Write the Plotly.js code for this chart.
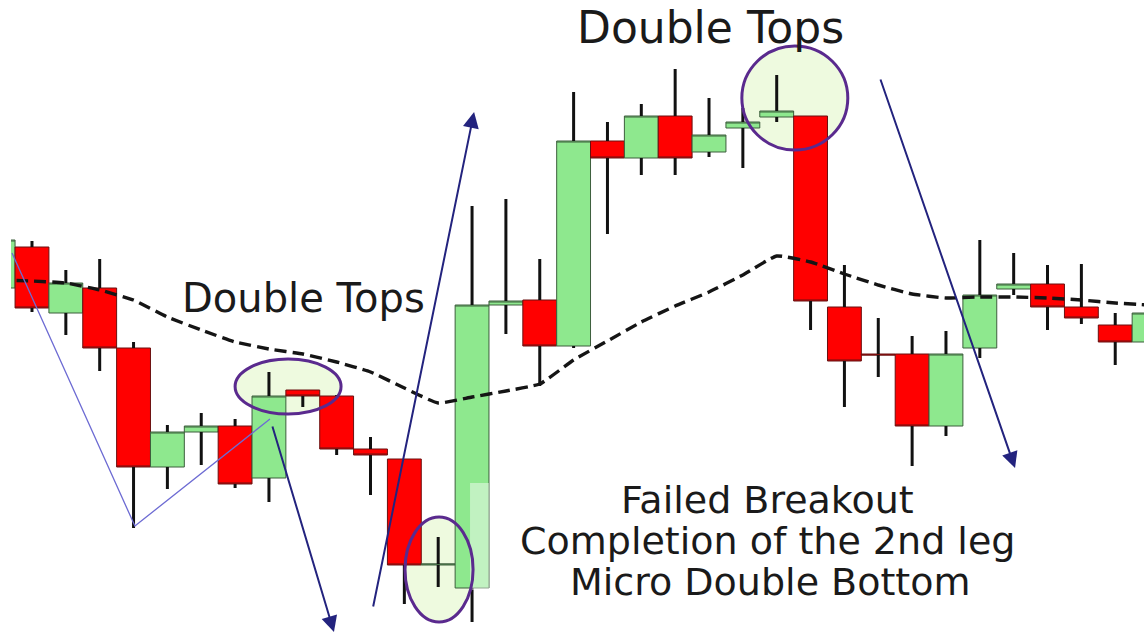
<!DOCTYPE html>
<html>
<head>
<meta charset="utf-8">
<script src="https://cdn.plot.ly/plotly-3.0.1.min.js"></script>
<style>html,body{margin:0;padding:0;background:#fff;}#chart{width:1144px;height:634px;}</style>
</head>
<body>
<div id="chart"></div>
<script>
// Bar index (session number)
const bars = [0,1,2,3,4,5,6,7,8,9,10,11,12,13,14,15,16,17,18,19,20,21,22,23,24,25,26,27,28,29,30,31,32,33,34];
const opens  = [33.2,37.3,30.7,33.2,27.2,15.3,18.8,19.4,14.2,23.0,22.4,17.1,16.1,5.5,3.2,31.5,32.0,27.4,47.9,46.2,50.4,46.8,49.2,50.3,50.4,31.3,26.6,26.6,19.4,27.2,33.1,33.6,31.3,29.5,27.8];
const highs  = [38.2,37.9,35.0,36.1,27.8,19.5,20.7,20.1,24.8,23.0,22.5,18.3,16.1,8.3,41.4,42.1,36.1,52.8,49.8,51.6,55.1,52.2,51.2,54.5,50.4,35.5,30.2,28.4,28.9,38.0,36.7,35.5,35.6,30.7,31.0];
const lows   = [32.8,30.8,28.5,24.9,9.2,13.1,15.5,13.2,11.8,21.3,16.5,12.5,1.6,3.3,-0.2,28.6,23.4,27.2,38.6,44.5,44.5,46.3,45.2,49.8,29.0,21.3,24.3,15.4,18.4,26.2,32.5,29.0,29.6,25.5,25.5];
const closes = [38.0,31.2,33.7,27.2,15.3,18.8,19.4,13.6,22.4,22.4,17.1,16.5,5.5,5.6,31.5,31.9,27.4,47.9,46.2,50.4,46.2,48.5,49.8,50.9,31.9,25.9,26.5,19.4,26.6,32.5,33.6,31.3,30.2,27.8,30.7];
// Moving average (dashed)
const movingAvg = [34.0,33.9,33.7,33.0,32.0,30.3,29.0,27.8,27.1,26.6,25.8,24.8,23.2,21.7,22.3,22.9,23.6,26.0,27.9,29.8,31.4,32.8,34.5,36.4,35.8,34.6,33.5,32.6,32.2,32.3,32.3,32.2,32.0,31.7,31.5];

// Annotation texts
const labelTopTitle = "Double Tops";
const labelMidTitle = "Double Tops";
const labelBottom = ["Failed Breakout", "Completion of the 2nd leg", "Micro Double Bottom"];

// wick segments (drawn outside the bodies)
const wx = [], wy = [];
for (let i = 0; i < bars.length; i++) {
  const top = Math.max(opens[i], closes[i]);
  const bot = Math.min(opens[i], closes[i]);
  wx.push(bars[i], bars[i], null, bars[i], bars[i], null);
  wy.push(highs[i], top, null, bot, lows[i], null);
}

const candles = {
  type: 'candlestick',
  x: bars, open: opens, high: highs, low: lows, close: closes,
  increasing: {fillcolor: '#8ee88e', line: {color: '#3c5e3c', width: 1}},
  decreasing: {fillcolor: '#ff0000', line: {color: '#6a1010', width: 1}},
  whiskerwidth: 0,
  hoverinfo: 'skip',
  showlegend: false
};
const wicks = {
  type: 'scatter', mode: 'lines', x: wx, y: wy,
  line: {color: '#111111', width: 3},
  hoverinfo: 'skip', showlegend: false, connectgaps: false
};
const ma = {
  type: 'scatter', mode: 'lines', x: bars, y: movingAvg,
  line: {color: '#151515', width: 3.4, dash: '12px,6px', shape: 'spline', smoothing: 0.4},
  hoverinfo: 'skip', showlegend: false
};

const ellFill = '#eefadf';
const ellLine = '#5a2a8e';
const ellipses = [
  {x0: 7.0, x1: 10.13, y0: 20.6, y1: 26.1},
  {x0: 12.02, x1: 14.03, y0: -0.2, y1: 10.3},
  {x0: 21.97, x1: 25.1, y0: 47.0, y1: 57.4}
];
const shapes = [];
ellipses.forEach(e => {
  shapes.push({type: 'circle', xref: 'x', yref: 'y', x0: e.x0, x1: e.x1, y0: e.y0, y1: e.y1,
    fillcolor: ellFill, line: {width: 0}, layer: 'below'});
});
// pale overlay on the breakout bar
shapes.push({type: 'rect', xref: 'x', yref: 'y', x0: 13.94, x1: 14.5, y0: 3.0, y1: 13.7,
  fillcolor: 'rgba(255,255,255,0.45)', line: {width: 0}, layer: 'above'});
ellipses.forEach(e => {
  shapes.push({type: 'circle', xref: 'x', yref: 'y', x0: e.x0, x1: e.x1, y0: e.y0, y1: e.y1,
    fillcolor: 'rgba(0,0,0,0)', line: {color: ellLine, width: 3}, layer: 'above'});
});
// thin zig-zag
shapes.push({type: 'path', xref: 'x', yref: 'y', path: 'M 0.41 36.7 L 4.04 9.4 L 8.03 20.1',
  line: {color: '#6d6bd3', width: 1.3}, layer: 'above'});

const arrowColor = '#23237e';
const arrows = [
  {ax: 8.09, ay: 19.5, x: 9.92, y: -1.2},
  {ax: 11.07, ay: 1.2, x: 14.06, y: 50.8},
  {ax: 26.05, ay: 54.2, x: 30.04, y: 15.2}
].map(a => ({
  xref: 'x', yref: 'y', axref: 'x', ayref: 'y', x: a.x, y: a.y, ax: a.ax, ay: a.ay,
  text: '', showarrow: true, arrowhead: 2, arrowsize: 1.6, arrowwidth: 2, arrowcolor: arrowColor
}));

const fnt = (s) => ({family: 'DejaVu Sans, Arial, sans-serif', size: s, color: '#1a1a1a'});
const W = 1133, H = 634, L = 11;
const px = (p) => (p - L) / W;
const py = (p) => 1 - p / H;
const texts = [
  {x: px(710), y: py(28), text: labelTopTitle, font: fnt(44)},
  {x: px(303), y: py(298), text: labelMidTitle, font: fnt(40)},
  {x: px(768), y: py(500), text: labelBottom[0], font: fnt(38)},
  {x: px(768), y: py(541), text: labelBottom[1], font: fnt(38)},
  {x: px(770), y: py(582), text: labelBottom[2], font: fnt(38)}
].map(t => Object.assign({xref: 'paper', yref: 'paper', showarrow: false, xanchor: 'center', yanchor: 'middle'}, t));

const layout = {
  width: 1144, height: 634,
  margin: {l: L, r: 0, t: 0, b: 0, pad: 0},
  paper_bgcolor: '#ffffff', plot_bgcolor: '#ffffff',
  showlegend: false,
  boxgap: 0, boxgroupgap: 0,
  xaxis: {range: [0.38, 33.85], visible: false, showgrid: false, zeroline: false, rangeslider: {visible: false}, fixedrange: true},
  yaxis: {range: [-1.4, 62], visible: false, showgrid: false, zeroline: false, fixedrange: true},
  shapes: shapes,
  annotations: arrows.concat(texts),
  hovermode: false
};

Plotly.newPlot('chart', [candles, wicks, ma], layout, {displayModeBar: false, staticPlot: true});
</script>
</body>
</html>
